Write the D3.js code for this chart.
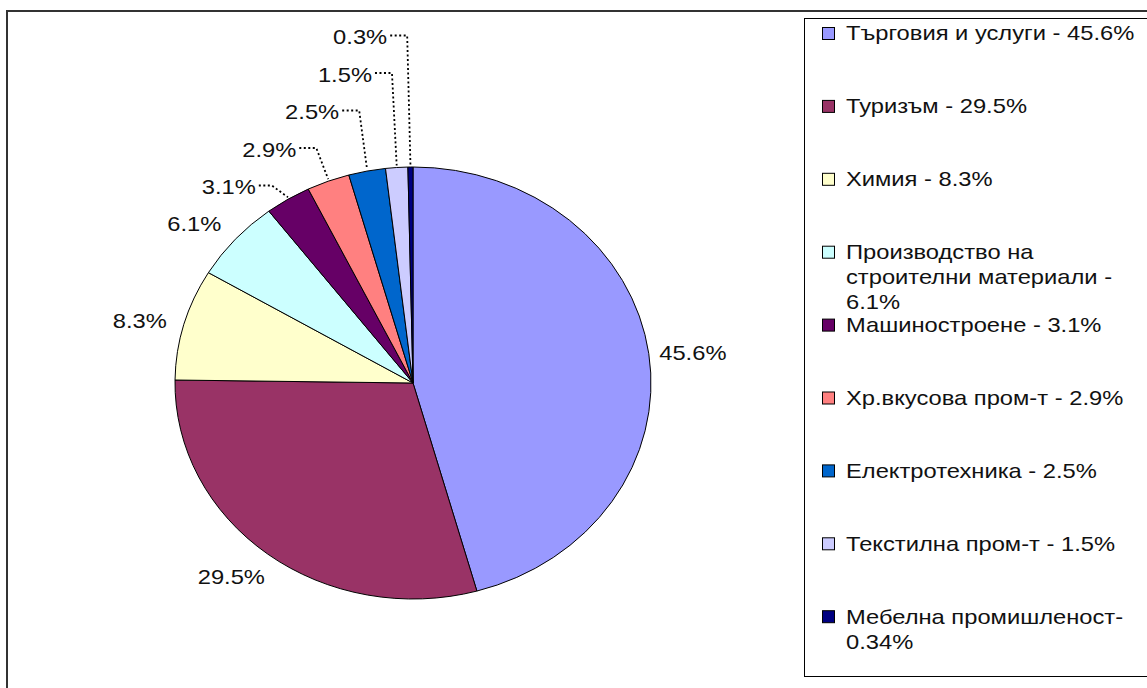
<!DOCTYPE html>
<html>
<head>
<meta charset="utf-8">
<script src="https://cdn.jsdelivr.net/npm/d3@7/dist/d3.min.js"></script>
<style>
  html, body { margin: 0; padding: 0; background: #fff; }
  svg { display: block; }
  text { font-family: "Liberation Sans", Arial, sans-serif; fill: #111; }
</style>
</head>
<body>
<svg id="chart" width="1147" height="688"></svg>
<script>
// ---- data ----
const categories = [
  "Търговия и услуги", "Туризъм", "Химия", "Производство на строителни материали",
  "Машиностроене", "Хр.вкусова пром-т", "Електротехника", "Текстилна пром-т", "Мебелна промишленост"
];
const values = [45.6, 29.5, 8.3, 6.1, 3.1, 2.9, 2.5, 1.5, 0.34];
const colors = ["#9999FF", "#993366", "#FFFFCC", "#CCFFFF", "#660066", "#FF8080", "#0066CC", "#CCCCFF", "#000080"];
const legendLines = [
  ["Търговия и услуги - 45.6%"],
  ["Туризъм - 29.5%"],
  ["Химия - 8.3%"],
  ["Производство на", "строителни материали -", "6.1%"],
  ["Машиностроене - 3.1%"],
  ["Хр.вкусова пром-т - 2.9%"],
  ["Електротехника - 2.5%"],
  ["Текстилна пром-т - 1.5%"],
  ["Мебелна промишленост-", "0.34%"]
];

// ---- layout ----
const svg = d3.select("#chart");
const cx = 413, cy = 383, ry = 216, rx = 238;
const sx = rx / ry;
const fontSize = 21, textStretch = 1.13;

// outer frame
svg.append("rect").attr("x", 7).attr("y", 11).attr("width", 1160).attr("height", 700)
  .attr("fill", "none").attr("stroke", "#333").attr("stroke-width", 2);

// legend box
svg.append("rect").attr("x", 804.5).attr("y", 18.5).attr("width", 400).attr("height", 658)
  .attr("fill", "#fff").attr("stroke", "#000").attr("stroke-width", 1);

const pie = d3.pie().sort(null).value(d => d);
const arcs = pie(values);
const arc = d3.arc().innerRadius(0).outerRadius(ry);

const g = svg.append("g").attr("transform", `translate(${cx},${cy}) scale(${sx},1)`);
g.selectAll("path").data(arcs).join("path")
  .attr("d", arc)
  .attr("fill", (d, i) => colors[i])
  .attr("stroke", "#000")
  .attr("stroke-width", 1)
  .attr("vector-effect", "non-scaling-stroke")
  .attr("stroke-linejoin", "round");

const pt = (a, r) => [cx + r * sx * Math.sin(a), cy - r * Math.cos(a)];
const mid = d => (d.startAngle + d.endAngle) / 2;
const fmt = v => d3.format(".1f")(v) + "%";

function addText(parent, x, y, str, anchor) {
  return parent.append("text")
    .attr("transform", `translate(${x},${y}) scale(${textStretch},1)`)
    .attr("text-anchor", anchor)
    .attr("dy", "0.35em")
    .style("font-size", fontSize + "px")
    .text(str);
}

const labels = svg.append("g");
const leaders = svg.append("g");
const stackY0 = 187, stackStep = 37.5;

arcs.forEach((d, i) => {
  const a = mid(d);
  const s = Math.sin(a), c = Math.cos(a);
  if (i < 4) {
    const ax = 44 + 25 * c * c, ay = 10 + 30 * c * c;
    const x = cx + (rx + ax) * s;
    const y = cy - (ry + ay) * c;
    addText(labels, x, y, fmt(values[i]), "middle");
  } else {
    const k = i - 4;
    const edge = pt(a, ry);
    const y = stackY0 - stackStep * k;
    const elbowX = edge[0] - (3 + 25 * Math.abs(s));
    const rightX = elbowX - (k === 0 ? 16 : 20);
    addText(labels, rightX, y, fmt(values[i]), "end");
    const ly = y - 1.5;
    leaders.append("path")
      .attr("d", `M${rightX + 3},${ly} L${elbowX},${ly} L${edge[0]},${edge[1] - 2}`)
      .attr("fill", "none")
      .attr("stroke", "#000")
      .attr("stroke-width", 1.8)
      .attr("stroke-dasharray", "2,2.5");
  }
});

// legend
const legX = 822, legTextX = 846, legY0 = 33, legStep = 72.9, lineH = 25;
const leg = svg.append("g");
legendLines.forEach((lines, i) => {
  const y = legY0 + legStep * i;
  leg.append("rect").attr("x", legX + 0.5).attr("y", y - 6 + 0.5).attr("width", 12).attr("height", 12)
    .attr("fill", colors[i]).attr("stroke", "#000").attr("stroke-width", 1);
  lines.forEach((ln, j) => addText(leg, legTextX, y + lineH * j, ln, "start"));
});
</script>
</body>
</html>
